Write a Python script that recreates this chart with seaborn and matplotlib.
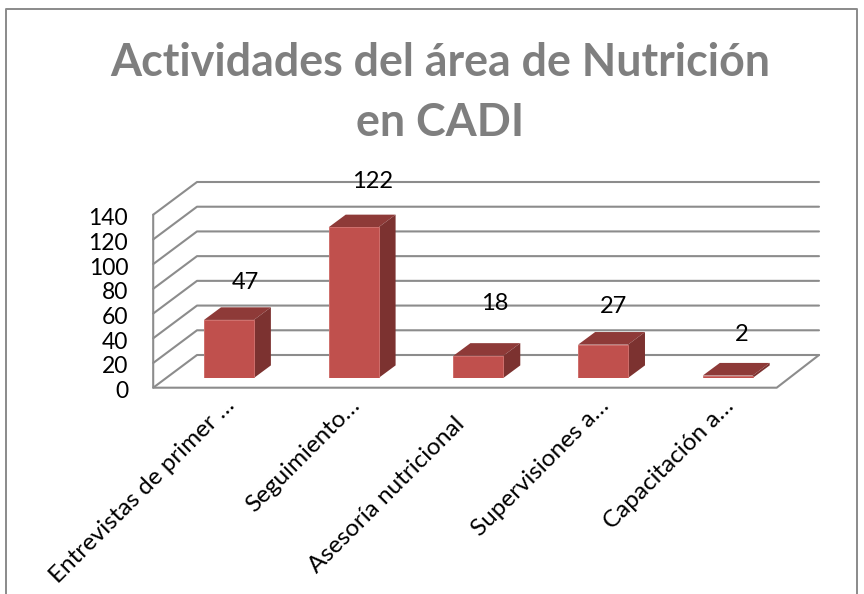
import matplotlib
matplotlib.use('Agg')
import matplotlib.pyplot as plt
import pandas as pd
import seaborn as sns
from matplotlib.lines import Line2D
from matplotlib.patches import Polygon
from matplotlib.transforms import Affine2D, IdentityTransform

# data
categories = ['Entrevistas de primer …', 'Seguimiento…', 'Asesoría nutricional',
              'Supervisiones a…', 'Capacitación a…']
values = [47, 122, 18, 27, 2]
y_ticks = [0, 20, 40, 60, 80, 100, 120, 140]
title = 'Actividades del área de Nutrición\nen CADI'

sns.set_theme(style='white')
plt.rcParams['font.family'] = ['Lato', 'DejaVu Sans']

W, H = 864, 594
fig = plt.figure(figsize=(W / 100, H / 100), dpi=100, facecolor='white')
ax = fig.add_axes([166.6 / W, (H - 378) / H, 623.5 / W, 173 / H])
ax.patch.set_alpha(0)

df = pd.DataFrame({'cat': categories, 'val': values})
sns.barplot(data=df, x='cat', y='val', color='#C0504D', saturation=1, width=0.4,
            edgecolor='#CF6F6C', linewidth=0.7, zorder=5, ax=ax)
ax.set_xlim(-0.5, 4.5)
ax.set_ylim(0, 140)
ax.set_xlabel('')
ax.set_ylabel('')
ax.set_yticks(y_ticks)
sns.despine(ax=ax, left=True, bottom=True)
ax.tick_params(axis='both', length=0)
ax.tick_params(axis='y', pad=18)

# fake 3d box: pixel shifts from the bar plane
FRONT = (-13.4, -9.7)
BACK = (30.4, 23)
DEPTH = (17, 12.6)
GRID = '#8C8C8C'


def wall_line(xs, ys, **kw):
    ax.add_line(Line2D(xs, ys, transform=IdentityTransform(), color=GRID, lw=1.5,
                       clip_on=False, zorder=1, solid_capstyle='round', **kw))


to_px = ax.transData.transform
for v in y_ticks:
    x0, y0 = to_px((-0.5, v))
    x1, _ = to_px((4.5, v))
    fx, fy = x0 + FRONT[0], y0 + FRONT[1]
    bx, by = x0 + BACK[0], y0 + BACK[1]
    wall_line([fx, bx, x1 + BACK[0] - 1.5], [fy, by, by])

x0, y0 = to_px((-0.5, 0))
x1, _ = to_px((4.5, 0))
x_top, y_top = to_px((-0.5, y_ticks[-1]))
wall_line([x_top + FRONT[0], x0 + FRONT[0], x1 + FRONT[0], x1 + BACK[0] - 1.5],
          [y_top + FRONT[1], y0 + FRONT[1], y0 + FRONT[1], y0 + BACK[1]])

# top and side faces of each bar
for bar in ax.patches:
    (l, b), (r, t) = to_px([(bar.get_x(), 0), (bar.get_x() + bar.get_width(), bar.get_height())])
    dx, dy = DEPTH
    ax.add_patch(Polygon([(l, t), (l + dx, t + dy), (r + dx, t + dy), (r, t)],
                         transform=IdentityTransform(), facecolor='#8E3A38',
                         edgecolor='none', clip_on=False, zorder=4))
    ax.add_patch(Polygon([(r, b), (r + dx, b + dy), (r + dx, t + dy), (r, t)],
                         transform=IdentityTransform(), facecolor='#7C3230',
                         edgecolor='none', clip_on=False, zorder=4))

# data labels sit at uneven spots in the original
label_shift = [(16, 37), (19, 46), (16.5, 52), (10, 38), (14, 41)]
for i, v in enumerate(values):
    ax.annotate(str(v), xy=(i, v), xytext=label_shift[i], textcoords='offset pixels',
                ha='center', va='center', fontsize=17, color='black', zorder=6,
                annotation_clip=False)

ytrans = Affine2D().translate(FRONT[0], FRONT[1] - 2)
for lab in ax.get_yticklabels():
    lab.set_fontsize(16.5)
    lab.set_color('black')
    lab.set_transform(lab.get_transform() + ytrans)

ax.set_xticks(range(len(categories)))
ax.set_xticklabels(categories, rotation=45, ha='right', va='top',
                   rotation_mode='anchor', fontsize=17.5, color='black')
# the one untruncated label ends further left
x_shift = [(-5, -12), (-5, -12), (-25, -30), (-5, -12), (-5, -12)]
for lab, (sx, sy) in zip(ax.get_xticklabels(), x_shift):
    lab.set_transform(lab.get_transform() + Affine2D().translate(sx, sy))

fig.text(440.5 / W, 1 - 93 / H, title, ha='center', va='center', fontsize=32.2,
         fontweight='bold', color='#7F7F7F', linespacing=1.55)

# chart border, runs off the bottom of the image
fig.add_artist(Line2D([6 / W, 6 / W, 857 / W, 857 / W], [0, 1 - 9 / H, 1 - 9 / H, 0],
                      color='#8A8A8A', lw=1.4))

fig.savefig('out.png', dpi=100, facecolor='white')
plt.close(fig)
